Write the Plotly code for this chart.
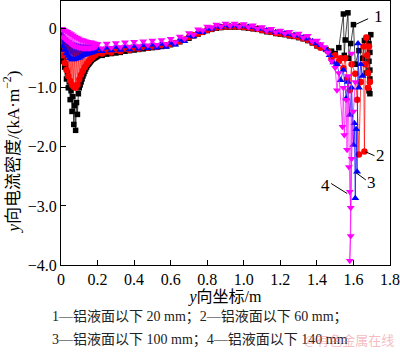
import plotly.graph_objects as go

# ---------------- data ----------------
X_LEFT = [0.005, 0.01, 0.015, 0.02, 0.025, 0.03, 0.035, 0.04, 0.045, 0.05, 0.055, 0.06, 0.065, 0.07,
          0.075, 0.08, 0.085, 0.09, 0.095, 0.10, 0.105, 0.11, 0.115, 0.12, 0.125, 0.13, 0.135, 0.14,
          0.145, 0.15, 0.155, 0.16, 0.165, 0.17, 0.175, 0.18, 0.185, 0.19, 0.195]
X_MID = [0.2, 0.225, 0.25, 0.275, 0.3, 0.325, 0.35, 0.375, 0.4, 0.425, 0.45, 0.475, 0.5, 0.525, 0.55,
         0.575, 0.6, 0.625, 0.65, 0.675, 0.7, 0.725, 0.75, 0.775, 0.8, 0.825, 0.85, 0.875, 0.9, 0.925,
         0.95, 0.975, 1.0, 1.025, 1.05, 1.075, 1.1, 1.125, 1.15, 1.175, 1.2, 1.225, 1.25, 1.275, 1.3,
         1.325, 1.35, 1.375, 1.4]

# series 1: 20 mm (black squares)
S1_LEFT = [-0.35, -0.55, -0.50, -0.65, -0.60, -0.85, -0.75, -1.00, -0.90, -1.20, -1.05, -1.40, -1.15, -1.62,
           -1.30, -1.72, -1.25, -1.45, -1.10, -1.00, -0.95, -0.90, -0.85, -0.80, -0.76, -0.72, -0.68, -0.65,
           -0.62, -0.60, -0.58, -0.56, -0.54, -0.52, -0.51, -0.50, -0.49, -0.48, -0.47]
S1_MID = [-0.46, -0.45, -0.43, -0.42, -0.41, -0.40, -0.38, -0.37, -0.36, -0.35,
          -0.34, -0.33, -0.32, -0.31, -0.30, -0.29, -0.27, -0.25, -0.22, -0.19,
          -0.16, -0.12, -0.09, -0.06, -0.03, -0.01, 0.01, 0.02, 0.03, 0.03,
          0.03, 0.03, 0.02, 0.01, 0.00, -0.01, -0.03, -0.05, -0.06, -0.08,
          -0.09, -0.10, -0.12, -0.13, -0.15, -0.17, -0.20, -0.24, -0.29]
S1_RX = [1.42, 1.45, 1.48, 1.50, 1.52, 1.545, 1.55, 1.555, 1.57, 1.575, 1.585, 1.60, 1.61, 1.63, 1.65,
         1.66, 1.67, 1.68, 1.685, 1.685, 1.69, 1.69, 1.685, 1.69, 1.69, 1.695]
S1_RY = [-0.30, -0.35, -0.38, -0.42, -0.32, 0.25, -0.45, -0.19, 0.27, -0.50, -0.25, 0.07, -0.60, -0.37, -0.50,
         -0.20, -0.75, -0.15, -0.25, -0.55, -0.70, -0.85, -1.05, -1.10, -0.40, -0.10]

# series 2: 60 mm (red circles)
S2_LEFT = [-0.20, -0.45, -0.26, -0.58, -0.30, -0.70, -0.33, -0.80, -0.35, -0.88, -0.37, -0.95, -0.38, -0.98,
           -0.40, -1.00, -0.40, -0.95, -0.40, -0.86, -0.40, -0.78, -0.40, -0.71, -0.39, -0.65, -0.39, -0.60,
           -0.39, -0.56, -0.38, -0.52, -0.38, -0.49, -0.38, -0.46, -0.38, -0.44, -0.39]
S2_MID = [-0.40, -0.42, -0.38, -0.40, -0.36, -0.38, -0.34, -0.36, -0.33, -0.34,
          -0.31, -0.32, -0.30, -0.31, -0.28, -0.28, -0.26, -0.24, -0.21, -0.18,
          -0.14, -0.11, -0.08, -0.05, -0.02, 0.00, 0.02, 0.03, 0.04, 0.04,
          0.04, 0.04, 0.03, 0.02, 0.01, 0.00, -0.02, -0.04, -0.05, -0.07,
          -0.08, -0.09, -0.11, -0.12, -0.14, -0.16, -0.19, -0.23, -0.28]
S2_RX = [1.42, 1.46, 1.48, 1.50, 1.52, 1.53, 1.545, 1.555, 1.565, 1.58, 1.59, 1.61, 1.62, 1.63, 1.64,
         1.655, 1.66, 1.665, 1.67, 1.675, 1.68, 1.68, 1.685, 1.69]
S2_RY = [-0.32, -0.38, -0.50, -0.45, -0.55, -0.50, -0.67, -0.50, -0.85, -1.04, -0.60, -0.76, -1.20, -2.13, -0.90,
         -0.30, -2.08, -0.60, -0.15, -0.45, -0.75, -1.00, -0.30, -0.90]

# series 3: 100 mm (blue up-triangles)
S3_LEFT = [-0.10, -0.30, -0.14, -0.36, -0.18, -0.42, -0.21, -0.46, -0.24, -0.50, -0.26, -0.52, -0.27, -0.52,
           -0.28, -0.51, -0.29, -0.50, -0.30, -0.49, -0.30, -0.47, -0.31, -0.45, -0.31, -0.44, -0.31, -0.43,
           -0.31, -0.42, -0.31, -0.41, -0.31, -0.40, -0.31, -0.39, -0.32, -0.38, -0.33]
S3_MID = [-0.33, -0.38, -0.32, -0.37, -0.31, -0.36, -0.30, -0.35, -0.29, -0.34,
          -0.28, -0.33, -0.27, -0.32, -0.26, -0.31, -0.24, -0.27, -0.19, -0.21,
          -0.12, -0.13, -0.06, -0.06, 0.00, 0.00, 0.04, 0.03, 0.06, 0.04,
          0.06, 0.04, 0.05, 0.03, 0.03, 0.00, 0.00, -0.03, -0.03, -0.06,
          -0.06, -0.08, -0.09, -0.11, -0.12, -0.15, -0.17, -0.21, -0.25]
S3_RX = [1.42, 1.45, 1.47, 1.49, 1.51, 1.53, 1.545, 1.56, 1.57, 1.58, 1.59, 1.60, 1.605, 1.61, 1.615,
         1.62, 1.625, 1.63, 1.64, 1.65]
S3_RY = [-0.28, -0.35, -0.45, -0.57, -0.60, -0.87, -0.70, -1.18, -0.90, -1.46, -1.00, -1.97, -1.60, -2.87, -1.70,
         -2.42, -0.25, -1.00, -0.60, -0.80]

# series 4: 140 mm (magenta down-triangles)
S4_LEFT = [0.00, -0.14, -0.02, -0.17, -0.04, -0.20, -0.05, -0.22, -0.07, -0.25, -0.09, -0.27, -0.11, -0.29,
           -0.13, -0.30, -0.15, -0.31, -0.16, -0.32, -0.18, -0.32, -0.19, -0.33, -0.20, -0.33, -0.21, -0.33,
           -0.22, -0.33, -0.23, -0.33, -0.23, -0.32, -0.24, -0.32, -0.25, -0.31, -0.26]
S4_MID = [-0.26, -0.33, -0.25, -0.32, -0.24, -0.31, -0.23, -0.30, -0.22, -0.29,
          -0.21, -0.28, -0.20, -0.27, -0.19, -0.26, -0.17, -0.23, -0.13, -0.17,
          -0.07, -0.10, -0.01, -0.03, 0.04, 0.02, 0.07, 0.04, 0.09, 0.05,
          0.09, 0.04, 0.08, 0.03, 0.06, 0.00, 0.03, -0.03, 0.00, -0.06,
          -0.03, -0.08, -0.05, -0.11, -0.08, -0.15, -0.12, -0.21, -0.20]
S4_RX = [1.42, 1.44, 1.46, 1.48, 1.50, 1.51, 1.52, 1.54, 1.545, 1.55, 1.56, 1.565, 1.57, 1.575, 1.58,
         1.585, 1.59, 1.585, 1.58, 1.59, 1.60, 1.61]
S4_RY = [-0.26, -0.31, -0.40, -0.55, -0.66, -1.04, -0.75, -1.66, -1.00, -1.80, -1.20, -2.05, -0.80, -2.34, -2.76,
         -3.03, -0.42, -3.51, -3.93, -2.20, -1.40, -0.90]

X_TICKS = [0, 0.2, 0.4, 0.6, 0.8, 1.0, 1.2, 1.4, 1.6, 1.8]
X_TICKTEXT = ["0", "0.2", "0.4", "0.6", "0.8", "1.0", "1.2", "1.4", "1.6", "1.8"]
Y_TICKS = [0, -1, -2, -3, -4]
Y_TICKTEXT = ["0", "\u22121.0", "\u22122.0", "\u22123.0", "\u22124.0"]

LABELS = ["1", "2", "3", "4"]
LABEL_POS = [(1.735, 0.21), (1.75, -2.15), (1.70, -2.60), (1.445, -2.66)]
LEADERS = [((1.61, 0.07), (1.68, 0.17)),
           ((1.664, -2.08), (1.715, -2.15)),
           ((1.615, -2.44), (1.668, -2.56)),
           ((1.566, -2.79), (1.478, -2.62))]

Y_TITLE = "<i>y</i>向电流密度/(kA·m<sup>\u22122</sup>)"
X_TITLE = "<i>y</i>向坐标/m"
FOOT1 = "1\u2014铝液面以下 20 mm；2\u2014铝液面以下 60 mm；"
FOOT2 = "3\u2014铝液面以下 100 mm；4\u2014铝液面以下 140 mm"
WATERMARK = "@有色金属在线"

# ---------------- figure ----------------
SERIF = "Liberation Serif, Noto Sans CJK SC, serif"
series = [
    (S1_LEFT, S1_MID, S1_RX, S1_RY, "#000000", "square", 5.5),
    (S2_LEFT, S2_MID, S2_RX, S2_RY, "#ff0000", "circle", 6.5),
    (S3_LEFT, S3_MID, S3_RX, S3_RY, "#0000ff", "triangle-up", 7),
    (S4_LEFT, S4_MID, S4_RX, S4_RY, "#ff00ff", "triangle-down", 7),
]

fig = go.Figure()
for left, mid, rx, ry, col, sym, sz in series:
    xs = X_LEFT + X_MID + rx
    ys = left + mid + ry
    fig.add_trace(go.Scatter(
        x=xs, y=ys, mode="lines+markers",
        line=dict(color=col, width=0.7),
        marker=dict(color=col, symbol=sym, size=sz, line=dict(width=0)),
        showlegend=False, hoverinfo="skip"))

shapes = []
for (x0, y0), (x1, y1) in LEADERS:
    shapes.append(dict(type="line", xref="x", yref="y", x0=x0, y0=y0, x1=x1, y1=y1,
                       line=dict(color="black", width=1)))

annotations = []
for lab, (lx, ly) in zip(LABELS, LABEL_POS):
    annotations.append(dict(x=lx, y=ly, xref="x", yref="y", text=lab, showarrow=False,
                            font=dict(family=SERIF, size=17, color="black")))
annotations.append(dict(x=-0.149, y=0.43, xref="paper", yref="paper", text=Y_TITLE, showarrow=False,
                        textangle=-90, xanchor="center", yanchor="middle",
                        font=dict(family=SERIF, size=17, color="black")))
annotations.append(dict(x=-0.034, y=-0.197, xref="paper", yref="paper", text=FOOT1, showarrow=False,
                        xanchor="left", yanchor="middle", font=dict(family=SERIF, size=14, color="#222")))
annotations.append(dict(x=-0.034, y=-0.284, xref="paper", yref="paper", text=FOOT2, showarrow=False,
                        xanchor="left", yanchor="middle", font=dict(family=SERIF, size=14, color="#222")))
annotations.append(dict(x=1.018, y=-0.284, xref="paper", yref="paper", text=WATERMARK, showarrow=False,
                        xanchor="right", yanchor="middle",
                        font=dict(family="Noto Sans CJK SC", size=13, color="rgba(235,120,130,0.5)")))

fig.update_layout(
    width=400, height=353,
    margin=dict(l=61, r=10, t=1, b=88),
    paper_bgcolor="white", plot_bgcolor="white",
    font=dict(family=SERIF, size=16, color="black"),
    shapes=shapes, annotations=annotations,
    xaxis=dict(range=[0, 1.8], tickvals=X_TICKS, ticktext=X_TICKTEXT,
               ticks="inside", ticklen=5, tickcolor="black", showgrid=False, zeroline=False,
               showline=True, linecolor="black", linewidth=1, mirror=True,
               tickfont=dict(family=SERIF, size=16),
               title=dict(text=X_TITLE, font=dict(family=SERIF, size=16), standoff=2)),
    yaxis=dict(range=[-4, 0.47], tickvals=Y_TICKS, ticktext=Y_TICKTEXT,
               ticks="inside", ticklen=5, tickcolor="black", showgrid=False, zeroline=False,
               showline=True, linecolor="black", linewidth=1, mirror=True,
               tickfont=dict(family=SERIF, size=16)),
)

fig.write_html("out.html")
